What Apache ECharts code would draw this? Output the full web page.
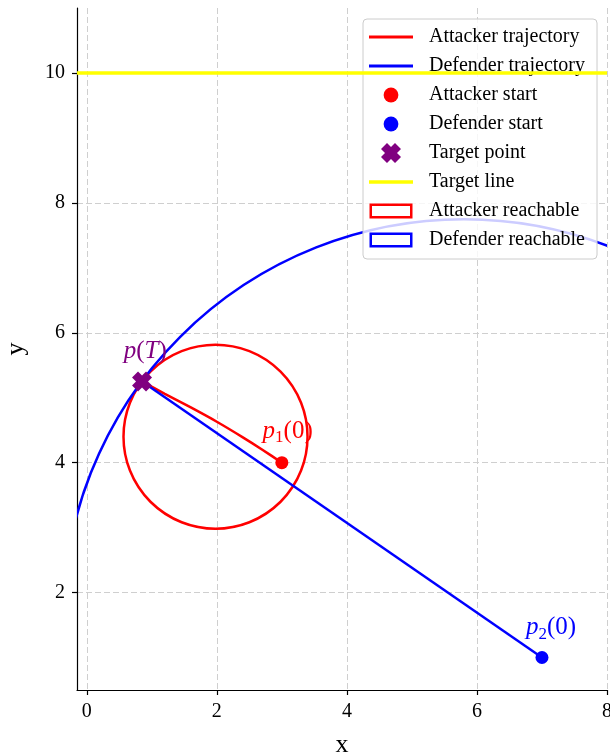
<!DOCTYPE html>
<html>
<head>
<meta charset="utf-8">
<script src="https://cdn.jsdelivr.net/npm/echarts@6/dist/echarts.min.js"></script>
<style>
html,body{margin:0;padding:0;background:#fff;}
#chart{width:610px;height:754px;}
</style>
</head>
<body>
<div id="chart"></div>
<script>
// ---- data ----
const xTicks = [0, 2, 4, 6, 8];
const yTicks = [2, 4, 6, 8, 10];
const xRange = [-0.15, 8.0];
const yRange = [0.5, 11.0];

const attackerTrajectory = [[3.0, 4.0], [2.7, 4.2], [2.4, 4.39], [2.0, 4.63], [1.6, 4.85], [1.2, 5.06], [0.85, 5.25]];
const defenderTrajectory = [[7.0, 1.0], [0.85, 5.25]];
const attackerStart = [3.0, 4.0];
const defenderStart = [7.0, 1.0];
const targetPoint = [0.85, 5.25];
const targetLineY = 10;
// [centerX, centerY, radius]
const attackerReach = [1.98, 4.4, 1.415];
const defenderReach = [5.8, 1.57, 6.17];
// annotation anchors
const labelPT = [0.9, 5.71];
const labelP1 = [3.09, 4.48];
const labelP2 = [7.14, 1.46];

const SERIF = "'Liberation Serif', 'Times New Roman', serif";
const RED = '#ff0000', BLUE = '#0000ff', PURPLE = '#800080', YELLOW = '#ffff00';
const X_PATH = 'path://M3,0L5,2L7,0L10,3L8,5L10,7L7,10L5,8L3,10L0,7L2,5L0,3Z';
// legend icons drawn in a 44x20 box (the first two moveTo points fix the box)
const BOX = 'M0,0M44,20';
const ICON_LINE = 'path://' + BOX + 'M0,8.5H44V11.5H0Z';
const ICON_LINE_Y = 'path://' + BOX + 'M0,8.2H44V11.8H0Z';
const ICON_DOT = 'path://' + BOX + 'M14.6,10A7.4,7.4,0,1,0,29.4,10A7.4,7.4,0,1,0,14.6,10Z';
const ICON_X = 'path://' + BOX + 'M18,0L22,4L26,0L32,6L28,10L32,14L26,20L22,16L18,20L12,14L16,10L12,6Z';
// hollow rectangle as a filled ring (outer clockwise, inner counter-clockwise)
const ICON_RECT = 'path://' + BOX + 'M0.5,2.5H43.5V17.5H0.5ZM3,5V15H41V5Z';

function circleRenderer(color) {
  return function (params, api) {
    const c = api.coord([api.value(0), api.value(1)]);
    const r = api.size([api.value(2), 0])[0];
    return {
      type: 'circle',
      shape: { cx: c[0], cy: c[1], r: r },
      style: { fill: 'none', stroke: color, lineWidth: 2.5 }
    };
  };
}

function richFor(color) {
  return {
    i: { fontFamily: SERIF, fontStyle: 'italic', fontSize: 25, color: color },
    n: { fontFamily: SERIF, fontSize: 25, color: color },
    s: { fontFamily: SERIF, fontSize: 17, color: color, padding: [13, 0, 0, 0] }
  };
}

const chart = echarts.init(document.getElementById('chart'), null, { renderer: 'canvas' });

const option = {
  animation: false,
  backgroundColor: '#ffffff',
  grid: { left: 77, right: 3, top: 8, bottom: 64, containLabel: false, outerBoundsMode: 'none' },
  xAxis: {
    type: 'value',
    min: xRange[0], max: xRange[1],
    name: 'x', nameLocation: 'middle', nameGap: 42,
    nameTextStyle: { fontFamily: SERIF, fontSize: 26, color: '#000' },
    axisLine: { show: true, onZero: false, lineStyle: { color: '#000', width: 1.2 } },
    axisTick: { show: true, inside: false, length: 5, lineStyle: { color: '#000', width: 1.2 }, customValues: xTicks },
    axisLabel: { customValues: xTicks, fontFamily: SERIF, fontSize: 20, color: '#000', margin: 12 },
    splitLine: { show: true, lineStyle: { color: '#cfcfcf', width: 1, type: [6, 3] } }
  },
  yAxis: {
    type: 'value',
    min: yRange[0], max: yRange[1],
    name: 'y', nameLocation: 'middle', nameGap: 48,
    nameTextStyle: { fontFamily: SERIF, fontSize: 26, color: '#000' },
    axisLine: { show: true, onZero: false, lineStyle: { color: '#000', width: 1.2 } },
    axisTick: { show: true, inside: false, length: 5, lineStyle: { color: '#000', width: 1.2 }, customValues: yTicks },
    axisLabel: { customValues: yTicks, fontFamily: SERIF, fontSize: 20, color: '#000', margin: 12 },
    splitLine: { show: true, lineStyle: { color: '#cfcfcf', width: 1, type: [6, 3] } }
  },
  legend: {
    orient: 'vertical',
    left: 363, top: 19,
    padding: [8, 12, 9, 6],
    itemWidth: 44, itemHeight: 20, itemGap: 9,
    backgroundColor: 'rgba(255,255,255,0.8)',
    borderColor: '#cccccc', borderWidth: 1, borderRadius: 4,
    textStyle: { fontFamily: SERIF, fontSize: 20, color: '#000', padding: [0, 0, 0, 11] },
    selectedMode: false,
    data: [
      { name: 'Attacker trajectory', icon: ICON_LINE, itemStyle: { color: RED, borderWidth: 0 } },
      { name: 'Defender trajectory', icon: ICON_LINE, itemStyle: { color: BLUE, borderWidth: 0 } },
      { name: 'Attacker start', icon: ICON_DOT, itemStyle: { color: RED, opacity: 1, borderWidth: 0 } },
      { name: 'Defender start', icon: ICON_DOT, itemStyle: { color: BLUE, opacity: 1, borderWidth: 0 } },
      { name: 'Target point', icon: ICON_X, itemStyle: { color: PURPLE, opacity: 1, borderWidth: 0 } },
      { name: 'Target line', icon: ICON_LINE_Y, itemStyle: { color: YELLOW, borderWidth: 0 } },
      { name: 'Attacker reachable', icon: ICON_RECT, itemStyle: { color: RED, borderWidth: 0 } },
      { name: 'Defender reachable', icon: ICON_RECT, itemStyle: { color: BLUE, borderWidth: 0 } }
    ]
  },
  series: [
    {
      name: 'Target line', type: 'line', data: [], z: 2,
      itemStyle: { color: YELLOW },
      markLine: {
        silent: true, symbol: 'none', label: { show: false },
        lineStyle: { color: YELLOW, width: 3.5, type: 'solid' },
        data: [{ yAxis: targetLineY }]
      }
    },
    {
      name: 'Attacker reachable', type: 'custom', clip: true, z: 2,
      itemStyle: { color: RED },
      data: [attackerReach],
      renderItem: circleRenderer(RED)
    },
    {
      name: 'Defender reachable', type: 'custom', clip: true, z: 2,
      itemStyle: { color: BLUE },
      data: [defenderReach],
      renderItem: circleRenderer(BLUE)
    },
    {
      name: 'Attacker trajectory', type: 'line', z: 3,
      data: attackerTrajectory, smooth: 0.2, showSymbol: false,
      itemStyle: { color: RED }, lineStyle: { color: RED, width: 2.5 }
    },
    {
      name: 'Defender trajectory', type: 'line', z: 3,
      data: defenderTrajectory, showSymbol: false,
      itemStyle: { color: BLUE }, lineStyle: { color: BLUE, width: 2.5 }
    },
    {
      name: 'Attacker start', type: 'scatter', z: 4,
      data: [attackerStart], symbol: 'circle', symbolSize: 13,
      itemStyle: { color: RED, opacity: 1 }
    },
    {
      name: 'Defender start', type: 'scatter', z: 4,
      data: [defenderStart], symbol: 'circle', symbolSize: 13,
      itemStyle: { color: BLUE, opacity: 1 }
    },
    {
      name: 'Target point', type: 'scatter', z: 5,
      data: [targetPoint], symbol: X_PATH, symbolSize: 20,
      itemStyle: { color: PURPLE, opacity: 1 }
    },
    {
      name: 'annotations', type: 'scatter', z: 6, symbolSize: 0, silent: true,
      itemStyle: { opacity: 1 },
      data: [
        { value: labelPT, label: { formatter: '{i|p}{n|(}{i|T}{n|)}', rich: richFor(PURPLE) } },
        { value: labelP1, label: { formatter: '{i|p}{s|1}{n|(0)}', rich: richFor(RED) } },
        { value: labelP2, label: { formatter: '{i|p}{s|2}{n|(0)}', rich: richFor(BLUE) } }
      ],
      label: { show: true, position: 'inside', opacity: 1 }
    }
  ]
};

chart.setOption(option);
</script>
</body>
</html>
